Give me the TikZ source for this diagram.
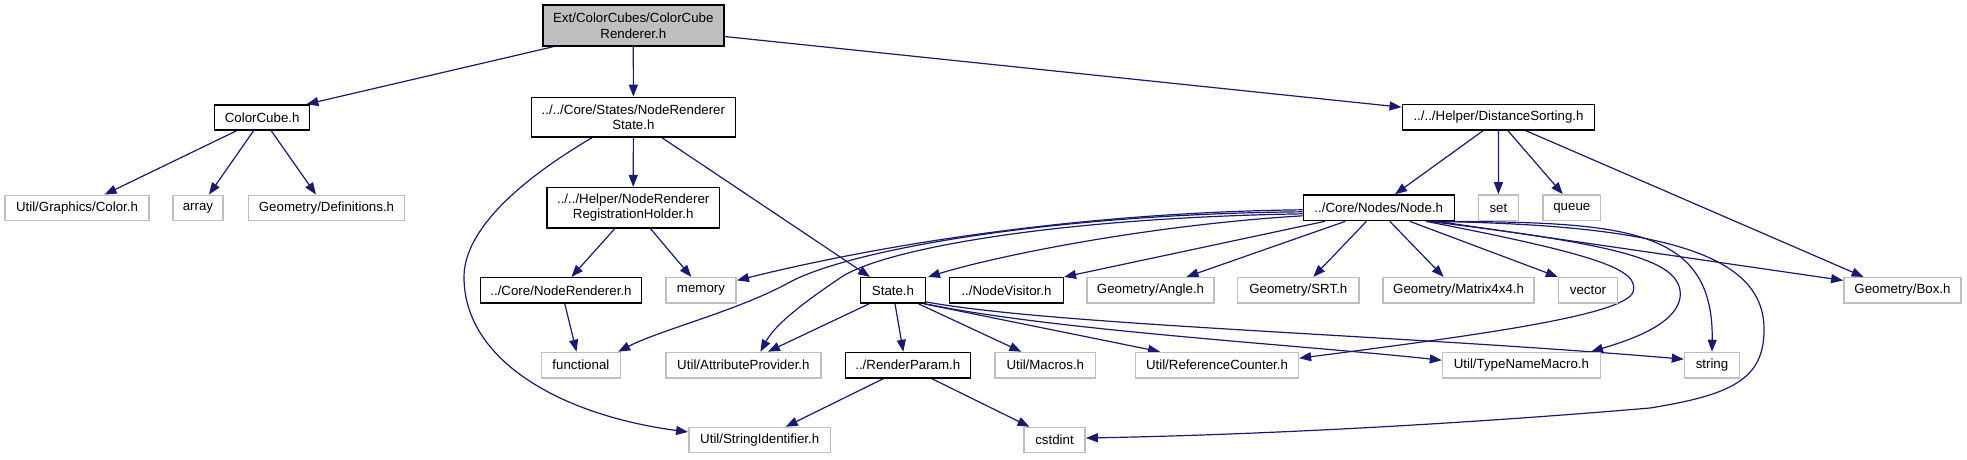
\documentclass[tikz,border=0pt]{standalone}
\usepackage{fontspec}
\setmainfont{Liberation Sans}
\usetikzlibrary{arrows.meta,calc,backgrounds}
\definecolor{edgeblue}{HTML}{191970}
\definecolor{graybd}{HTML}{BFBFBF}
\definecolor{rootfill}{HTML}{BFBFBF}
\begin{document}
\begin{tikzpicture}[x=1pt,y=-1pt,
  box/.style={draw=black, line width=1.4pt, fill=white, inner sep=0pt,
    minimum height=25.5pt, align=center, font=\fontsize{13.3}{15.5}\selectfont},
  ext/.style={box, draw=graybd, line width=1.5pt},
  dep/.style={draw=edgeblue, line width=1.2pt, -{Triangle[length=12pt,width=9pt]}}]
\useasboundingbox (0,0) rectangle (1967,459);
% row 0
\node[box, fill=rootfill, minimum width=181pt, minimum height=41pt] (root) at (633.3,25.5) {Ext/ColorCubes/ColorCube\\Renderer.h};
% row 1
\node[box, minimum width=95pt, minimum height=25pt] (cc) at (262.2,117.5) {ColorCube.h};
\node[box, minimum width=203.6pt, minimum height=39.7pt] (nrs) at (633.4,117.2) {../../Core/States/NodeRenderer\\State.h};
\node[box, minimum width=192.5pt, minimum height=25.7pt] (ds) at (1498.5,117.2) {../../Helper/DistanceSorting.h};
% row 2
\node[ext, minimum width=144pt, minimum height=25pt] (color) at (77,207.8) {Util/Graphics/Color.h};
\node[ext, minimum width=50pt, minimum height=25pt] (array) at (198,207.8) {array};
\node[ext, minimum width=156pt, minimum height=25pt] (defs) at (326.5,207.8) {Geometry/Definitions.h};
\node[box, minimum width=172.4pt, minimum height=40.3pt] (reg) at (633.2,207.8) {../../Helper/NodeRenderer\\RegistrationHolder.h};
\node[box, minimum width=151pt, minimum height=25.7pt] (node) at (1378.8,207.8) {../Core/Nodes/Node.h};
\node[ext, minimum width=40pt, minimum height=25.7pt] (set) at (1498.4,207.8) {set};
\node[ext, minimum width=57.5pt, minimum height=25.7pt] (queue) at (1571.8,207.8) {queue};
% row 3
\node[box, minimum width=160.7pt] (noderend) at (561,290.4) {../Core/NodeRenderer.h};
\node[ext, minimum width=70.4pt] (memory) at (701,290.4) {memory};
\node[box, minimum width=64.6pt] (state) at (893,290.4) {State.h};
\node[box, minimum width=113.7pt] (visitor) at (1006.5,290.4) {../NodeVisitor.h};
\node[ext, minimum width=127pt] (angle) at (1150.5,290.4) {Geometry/Angle.h};
\node[ext, minimum width=121.7pt] (srt) at (1298.3,290.4) {Geometry/SRT.h};
\node[ext, minimum width=151.2pt] (matrix) at (1458.6,290.4) {Geometry/Matrix4x4.h};
\node[ext, minimum width=59pt] (vector) at (1588,290.4) {vector};
\node[ext, minimum width=117.3pt] (box) at (1902.5,290.4) {Geometry/Box.h};
% row 4
\node[ext, minimum width=79pt] (functional) at (580.9,365.2) {functional};
\node[ext, minimum width=155.2pt] (attr) at (743.4,365.2) {Util/AttributeProvider.h};
\node[box, minimum width=125pt] (render) at (907.8,365.2) {../RenderParam.h};
\node[ext, minimum width=100.3pt] (macros) at (1045.3,365.2) {Util/Macros.h};
\node[ext, minimum width=162.7pt] (refcount) at (1217,365.2) {Util/ReferenceCounter.h};
\node[ext, minimum width=157.8pt] (typename) at (1521.4,365.2) {Util/TypeNameMacro.h};
\node[ext, minimum width=55pt] (string) at (1712,365.2) {string};
% row 5
\node[ext, minimum width=141.8pt, minimum height=25pt] (strid) at (759.7,440) {Util/StringIdentifier.h};
\node[ext, minimum width=61.2pt, minimum height=25pt] (cstdint) at (1054.5,440) {cstdint};

\begin{scope}[on background layer]
% root
\draw[dep] ($(root.south)+(-80,0)$) -- ($(cc.north east)+(-4,0)$);
\draw[dep] (root.south) -- (nrs.north);
\draw[dep] ($(root.east)+(0,11)$) -- ($(ds.west)+(0,-10)$);
% ColorCube
\draw[dep] ($(cc.south)+(-25.5,0)$) -- ($(color.north)+(27.6,0)$);
\draw[dep] ($(cc.south)+(-8.6,0)$) -- ($(array.north)+(11,0)$);
\draw[dep] ($(cc.south)+(9,0)$) -- ($(defs.north)+(-10.5,0)$);
% NodeRendererState
\draw[dep] (nrs.south) -- (reg.north);
\draw[dep] ($(nrs.south)+(28.6,0)$) -- ($(state.north)+(-23,0)$);
\draw[dep] ($(nrs.south)+(-41.4,0)$) .. controls (520,180) and (464,230) .. (464,277)
  .. controls (464,360) and (560,415) .. ($(strid.west)+(0,-8)$);
% RegistrationHolder
\draw[dep] ($(reg.south)+(-18.4,0)$) -- ($(noderend.north)+(10.4,0)$);
\draw[dep] ($(reg.south)+(17.3,0)$) -- ($(memory.north)+(-9.7,0)$);
% NodeRenderer
\draw[dep] ($(noderend.south)+(3.8,0)$) -- ($(functional.north)+(-4.4,0)$);
% DistanceSorting
\draw[dep] ($(ds.south)+(-15.5,0)$) -- ($(node.north)+(16.2,0)$);
\draw[dep] (ds.south) -- (set.north);
\draw[dep] ($(ds.south)+(9.5,0)$) -- ($(queue.north)+(-9,0)$);
\draw[dep] ($(ds.south)+(27.5,0)$) -- ($(box.north)+(-38.9,0)$);
% Node.h
\draw[dep] ($(node.west)+(0,2)$) .. controls (1100,212) and (900,240) .. ($(memory.east)+(0,-10)$);
\draw[dep] ($(node.west)+(0,4)$) .. controls (1050,214) and (850,250) .. (790,282)
  .. controls (740,310) and (660,330) .. ($(functional.north east)+(-3,0)$);
\draw[dep] ($(node.west)+(0,6)$) .. controls (1050,218) and (880,250) .. (840,278)
  .. controls (800,305) and (775,325) .. ($(attr.north)+(17,0)$);
\draw[dep] ($(node.west)+(0,8)$) .. controls (1150,225) and (1000,255) .. ($(state.north east)+(2,0)$);
\draw[dep] ($(node.south)+(-54,0)$) -- (visitor.north east);
\draw[dep] ($(node.south)+(-33.5,0)$) -- ($(angle.north)+(36,0)$);
\draw[dep] ($(node.south)+(-12.4,0)$) -- ($(srt.north)+(15,0)$);
\draw[dep] ($(node.south)+(11,0)$) -- ($(matrix.north)+(-15,0)$);
\draw[dep] ($(node.south)+(31,0)$) -- (vector.north west);
\draw[dep] ($(node.south)+(58,0)$) -- ($(box.west)+(0,-10)$);
\draw[dep] ($(node.south)+(52,0)$) .. controls (1620,222) and (1714,225) .. (string.north);
\draw[dep] ($(node.south)+(54,0)$) .. controls (1650,225) and (1765,250) .. (1764,330)
  .. controls (1764,380) and (1730,395) .. (1650,408)
  .. controls (1450,425) and (1250,435) .. ($(cstdint.east)+(0,-2)$);
\draw[dep] ($(node.south)+(47,0)$) .. controls (1600,255) and (1640,270) .. (1633,292)
  .. controls (1625,315) and (1480,335) .. ($(refcount.east)+(0,-7)$);
\draw[dep] ($(node.south)+(50,0)$) .. controls (1620,245) and (1685,260) .. (1680,298)
  .. controls (1675,325) and (1630,340) .. ($(typename.north east)+(-10,0)$);
% State.h
\draw[dep] ($(state.south)+(-24,0)$) -- ($(attr.north)+(24.5,0)$);
\draw[dep] ($(state.south)+(2,0)$) -- ($(render.north)+(-4.5,0)$);
\draw[dep] ($(state.south)+(25.6,0)$) -- ($(macros.north)+(-24,0)$);
\draw[dep] ($(state.south east)+(-2,0)$) -- ($(refcount.north)+(-57,0)$);
\draw[dep] ($(state.south east)+(0,-2)$) .. controls (1050,325) and (1400,335) .. ($(string.west)+(0,-6)$);
\draw[dep] (state.south east) .. controls (1050,330) and (1300,345) .. ($(typename.west)+(0,-5)$);
% RenderParam
\draw[dep] ($(render.south)+(-24.4,0)$) -- ($(strid.north)+(26,0)$);
\draw[dep] ($(render.south)+(24,0)$) -- ($(cstdint.north)+(-25,0)$);
\end{scope}
\end{tikzpicture}
\end{document}
